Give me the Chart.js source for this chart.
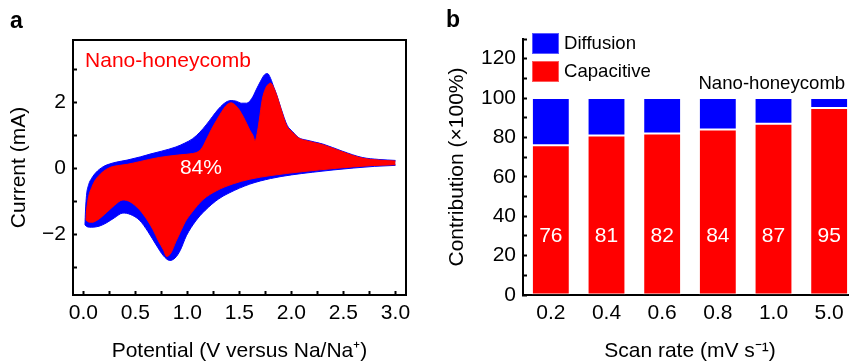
<!DOCTYPE html>
<html><head><meta charset="utf-8">
<script src="https://cdn.jsdelivr.net/npm/chart.js@4/dist/chart.umd.min.js"></script>
<style>
html,body{margin:0;padding:0;background:#fff;overflow:hidden;width:849px;height:362px;}
#wa{position:absolute;left:0;top:0;width:420px;height:362px;}
#wb{position:absolute;left:420px;top:0;width:440px;height:362px;}
.lbl{position:absolute;font:bold 23px "Liberation Sans",Arial,sans-serif;line-height:23px;color:#000;}
</style></head><body>
<div id="wa"><canvas id="ca" width="420" height="362"></canvas></div>
<div id="wb"><canvas id="cb" width="440" height="362"></canvas></div>
<div class="lbl" style="left:10px;top:9px">a</div>
<div class="lbl" style="left:446px;top:8px">b</div>
<script>
// ---------- Panel a data: CV curve (total = blue, capacitive = red) ----------
const totalUpperV = [0.015,0.02,0.03,0.05,0.08,0.12,0.19,0.25,0.32,0.42,0.55,0.65,0.75,0.89,0.97,1.05,1.12,1.18,1.24,1.30,1.37,1.42,1.47,1.52,1.57,1.62,1.66,1.70,1.74,1.77,1.80,1.83,1.86,1.90,1.96,2.01,2.07,2.14,2.30,2.49,2.68,2.84,3.00];
const totalUpperI = [-1.72,-1.30,-0.82,-0.50,-0.30,-0.13,0.05,0.13,0.19,0.25,0.35,0.44,0.52,0.65,0.76,0.90,1.10,1.32,1.57,1.81,2.01,2.06,2.04,1.98,1.98,2.13,2.38,2.63,2.84,2.88,2.73,2.47,2.22,1.82,1.30,1.12,0.93,0.86,0.74,0.52,0.33,0.27,0.24];
const totalLowerV = [0.015,0.04,0.08,0.15,0.22,0.30,0.38,0.45,0.54,0.62,0.70,0.77,0.83,0.88,0.93,0.99,1.08,1.17,1.30,1.40,1.60,1.80,2.00,2.20,2.40,2.60,2.80,3.00];
const totalLowerI = [-1.72,-1.78,-1.79,-1.76,-1.66,-1.50,-1.36,-1.40,-1.58,-1.92,-2.33,-2.66,-2.80,-2.73,-2.50,-2.05,-1.60,-1.28,-0.93,-0.75,-0.48,-0.31,-0.20,-0.12,-0.05,0.01,0.06,0.09];
const capUpperV = [0.025,0.03,0.04,0.05,0.08,0.11,0.15,0.19,0.26,0.35,0.42,0.55,0.73,0.93,1.05,1.10,1.14,1.18,1.23,1.28,1.33,1.37,1.42,1.46,1.50,1.54,1.57,1.60,1.63,1.65,1.67,1.69,1.72,1.75,1.78,1.80,1.83,1.86,1.90,1.93,1.96,2.01,2.07,2.14,2.30,2.49,2.68,2.84,3.00];
const capUpperI = [-1.57,-1.30,-1.05,-0.86,-0.58,-0.38,-0.22,-0.10,0.03,0.09,0.12,0.21,0.33,0.41,0.45,0.50,0.62,0.86,1.18,1.46,1.72,1.90,1.99,1.92,1.77,1.55,1.36,1.16,1.00,0.84,1.05,1.45,2.10,2.42,2.56,2.59,2.45,2.20,1.80,1.50,1.26,1.10,0.92,0.84,0.72,0.50,0.31,0.25,0.22];
const capLowerV = [0.025,0.05,0.08,0.14,0.22,0.30,0.38,0.45,0.54,0.62,0.67,0.72,0.77,0.80,0.84,0.89,0.93,0.98,1.04,1.15,1.28,1.44,1.60,1.80,2.11,2.43,2.75,3.00];
const capLowerI = [-1.57,-1.63,-1.64,-1.56,-1.35,-1.12,-0.96,-1.02,-1.26,-1.60,-1.87,-2.20,-2.48,-2.68,-2.58,-2.22,-1.95,-1.62,-1.35,-0.95,-0.68,-0.47,-0.33,-0.22,-0.10,0.00,0.08,0.11];
const sampleName = 'Nano-honeycomb';
const capShareLabel = '84%';

// ---------- Panel b data: contributions ----------
const scanRates = ['0.2','0.4','0.6','0.8','1.0','5.0'];
const capacitive = [76,81,82,84,87,95];
const diffusion = [24,19,18,16,13,5];
const seriesNames = ['Capacitive','Diffusion'];

// ---------- styles / positions ----------
const RED = '#ff0000', BLUE = '#0000ff';
const FONT = '"Liberation Sans", Arial, Helvetica, sans-serif';
Chart.defaults.font.family = FONT;
Chart.defaults.color = '#000';
const pts = (xs, ys) => xs.map((v, i) => ({x: v, y: ys[i]}));
const minus = v => (v < 0 ? '\u2212' + Math.abs(v) : String(v));

const annotA = {
  id: 'annotA',
  afterDatasetsDraw(chart) {
    const {ctx, scales: {x, y}} = chart;
    ctx.save();
    ctx.font = '21px ' + FONT;
    ctx.textBaseline = 'middle';
    ctx.fillStyle = '#fff'; ctx.textAlign = 'center';
    ctx.fillText(capShareLabel, x.getPixelForValue(1.13), y.getPixelForValue(0.0));
    ctx.fillStyle = RED; ctx.textAlign = 'left';
    ctx.fillText(sampleName, x.getPixelForValue(0.016), y.getPixelForValue(3.25));
    ctx.restore();
  }
};

const lineDs = (label, data, color, fill, order) => ({
  label, data, borderColor: color, backgroundColor: color, borderWidth: 1,
  pointRadius: 0, fill, order, cubicInterpolationMode: 'monotone'
});

new Chart(document.getElementById('ca'), {
  type: 'line',
  data: {
    datasets: [
      lineDs('Capacitive upper', pts(capUpperV, capUpperI), RED, false, 0),
      lineDs('Capacitive lower', pts(capLowerV, capLowerI), RED, '-1', 0),
      lineDs('Total upper', pts(totalUpperV, totalUpperI), BLUE, false, 1),
      lineDs('Total lower', pts(totalLowerV, totalLowerI), BLUE, '-1', 1)
    ]
  },
  options: {
    responsive: false, animation: false, devicePixelRatio: 1,
    layout: {padding: {top: 40, right: 14, left: 0, bottom: 0}},
    plugins: {legend: {display: false}, tooltip: {enabled: false}},
    scales: {
      x: {
        type: 'linear', position: 'bottom', min: -0.1, max: 3.1,
        ticks: {stepSize: 0.25, includeBounds: false, autoSkip: false, maxRotation: 0, padding: 9.5,
          font: {size: 21}, color: '#000',
          callback: v => (Math.abs(v * 2 - Math.round(v * 2)) < 1e-6 ? v.toFixed(1) : '')},
        grid: {drawOnChartArea: false, tickLength: -4, tickWidth: 2, tickColor: '#000'},
        border: {color: '#000', width: 2},
        title: {display: true, text: 'Potential (V versus Na/Na\u207A)', font: {size: 21, lineHeight: 1}, color: '#000', padding: {top: 0, bottom: 0}},
        afterFit: s => { s.height = 67; }
      },
      y: {
        type: 'linear', position: 'left', min: -3.85, max: 3.9,
        ticks: {stepSize: 1, includeBounds: false, autoSkip: false, padding: 11,
          font: {size: 21}, color: '#000',
          callback: v => (Math.round(v) % 2 === 0 ? minus(Math.round(v)) : '')},
        grid: {drawOnChartArea: false, tickLength: -4, tickWidth: 2, tickColor: '#000'},
        border: {color: '#000', width: 2},
        title: {display: true, text: 'Current (mA)', font: {size: 21, lineHeight: 1}, color: '#000', padding: {top: 8.5, bottom: 0}},
        afterFit: s => { s.width = 73; }
      },
      xTop: {
        type: 'linear', position: 'top', min: -0.1, max: 3.1,
        ticks: {display: false}, grid: {display: false, drawTicks: false},
        border: {display: true, color: '#000', width: 2},
        afterFit: s => { s.height = 0; }
      },
      yRight: {
        type: 'linear', position: 'right', min: -3.85, max: 3.9,
        ticks: {display: false}, grid: {display: false, drawTicks: false},
        border: {display: true, color: '#000', width: 2},
        afterFit: s => { s.width = 0; }
      }
    }
  },
  plugins: [annotA]
});

// ---------- Panel b ----------
const annotB = {
  id: 'annotB',
  afterDatasetsDraw(chart) {
    const {ctx, chartArea: ca, scales: {x, y}} = chart;
    ctx.save();
    ctx.font = '21px ' + FONT;
    ctx.textBaseline = 'middle'; ctx.textAlign = 'center'; ctx.fillStyle = '#fff';
    capacitive.forEach((v, i) => ctx.fillText(String(v), x.getPixelForValue(i), y.getPixelForValue(30)));
    ctx.fillStyle = '#000';
    ctx.font = '18.6px ' + FONT;
    ctx.fillText(sampleName, x.getPixelForValue(3.97), y.getPixelForValue(107));
    // legend
    const items = [{label: seriesNames[1], color: BLUE}, {label: seriesNames[0], color: RED}];
    const bx = ca.left + 9, by = ca.top - 6;
    ctx.textAlign = 'left';
    items.forEach((it, k) => {
      const top = by + k * 28;
      ctx.fillStyle = it.color; ctx.fillRect(bx, top, 27, 21);
      ctx.strokeStyle = 'rgba(255,255,255,0.35)'; ctx.lineWidth = 1; ctx.strokeRect(bx + 0.5, top + 0.5, 26, 20);
      ctx.fillStyle = '#000'; ctx.fillText(it.label, bx + 32, top + 11);
    });
    ctx.restore();
  }
};

new Chart(document.getElementById('cb'), {
  type: 'bar',
  data: {
    labels: scanRates,
    datasets: [
      {label: seriesNames[0], data: capacitive, backgroundColor: RED, borderColor: 'rgba(255,255,255,0.35)', borderWidth: 1, borderSkipped: false},
      {label: seriesNames[1], data: diffusion, backgroundColor: BLUE, borderColor: 'rgba(255,255,255,0.35)', borderWidth: 1, borderSkipped: false}
    ]
  },
  options: {
    responsive: false, animation: false, devicePixelRatio: 1,
    layout: {padding: {top: 39, right: 3, left: 0, bottom: 0}},
    datasets: {bar: {barPercentage: 0.68, categoryPercentage: 1}},
    plugins: {legend: {display: false}, tooltip: {enabled: false}},
    scales: {
      x: {
        stacked: true, offset: true,
        ticks: {font: {size: 21}, color: '#000', padding: 5.5, maxRotation: 0, autoSkip: false},
        grid: {display: false, drawTicks: false},
        border: {color: '#000', width: 2},
        title: {display: true, text: 'Scan rate (mV s\u207B\u00B9)', font: {size: 21, lineHeight: 1}, color: '#000', padding: {top: 0, bottom: 0}},
        afterFit: s => { s.height = 67; }
      },
      y: {
        stacked: true, min: 0, max: 130,
        ticks: {stepSize: 10, includeBounds: false, autoSkip: false, padding: 11, font: {size: 21}, color: '#000',
          callback: v => (v % 20 === 0 ? String(v) : '')},
        grid: {drawOnChartArea: false, tickLength: -4, tickWidth: 2, tickColor: '#000'},
        border: {color: '#000', width: 2},
        title: {display: true, text: 'Contribution (\u00D7100%)', font: {size: 21, lineHeight: 1}, color: '#000', padding: {top: 27, bottom: 0}},
        afterFit: s => { s.width = 103; }
      }
    }
  },
  plugins: [annotB]
});
</script>
</body></html>
